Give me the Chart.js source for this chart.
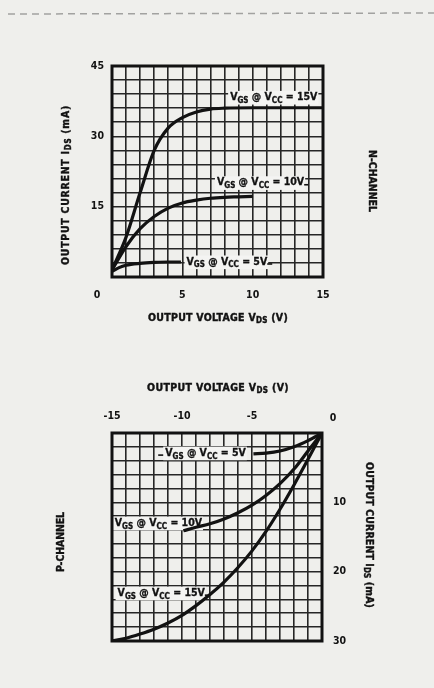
<!DOCTYPE html>
<html>
<head>
<meta charset="utf-8">
<script src="https://cdn.jsdelivr.net/npm/chart.js@4.4.1/dist/chart.umd.min.js"></script>
<style>
  html, body { margin:0; padding:0; background:#efefec; }
  body { width:434px; height:688px; position:relative; overflow:hidden; }
  canvas { position:absolute; left:0; }
  #top { top:0; }
  #bot { top:344px; }
</style>
</head>
<body>
<canvas id="top" width="434" height="344"></canvas>
<canvas id="bot" width="434" height="344"></canvas>
<script>
// ---------- DATA ----------
// N-channel: output voltage VDS (V) vs output current IDS (mA)
const nCat15 = [0, 1, 2, 3, 4, 5, 6, 7, 8, 10, 12, 15];
const nVal15 = [1.5, 8.5, 18, 27, 31.8, 34, 35.2, 35.8, 36, 36.1, 36.1, 36.1];
const nCat10 = [0, 1, 2, 3, 4, 5, 6, 7, 8, 9, 10];
const nVal10 = [1.5, 6.5, 10.3, 12.9, 14.7, 15.8, 16.4, 16.8, 17, 17.1, 17.2];
const nCat5  = [0, 0.5, 1, 2, 3, 4, 4.9];
const nVal5  = [1.2, 2.0, 2.5, 2.9, 3.1, 3.2, 3.2];
// P-channel
const pCat5  = [0, -1, -2, -3, -4, -4.9];
const pVal5  = [0, 1.1, 2.0, 2.6, 2.9, 3.0];
const pCat10 = [0, -1, -2, -3, -4, -5, -6, -7, -8, -9, -9.9];
const pVal10 = [0, 2.6, 5.2, 7.3, 9.0, 10.4, 11.5, 12.4, 13.1, 13.6, 14.1];
const pCat15 = [0, -1, -2, -3, -4, -5, -6, -7, -8, -9, -10, -11, -12, -13, -14, -15];
const pVal15 = [0, 3.8, 7.5, 11, 14.2, 17, 19.4, 21.5, 23.3, 24.9, 26.3, 27.4, 28.3, 29, 29.6, 30];
// tick labels
const nXTickLabels = [5, 10, 15];
const nYTickLabels = [15, 30, 45];
const pXTickLabels = [-15, -10, -5];
const pYTickLabels = [10, 20, 30];
const seriesNames = ['15V', '10V', '5V'];

// ---------- STYLE ----------
const INK = '#121212';
const GRID = '#262626';
const BOX = '#f4f4f2';
const FONT = '"DejaVu Sans Condensed", "DejaVu Sans", sans-serif';

function pts(xs, ys) {
  return xs.map((x, i) => ({ x: x, y: ys[i] })).sort((a, b) => a.x - b.x);
}

function partsWidth(ctx, parts, fs, ss, ls) {
  let w = 0;
  for (const p of parts) {
    ctx.font = 'bold ' + (p.sub ? ss : fs) + 'px ' + FONT;
    ctx.letterSpacing = ls + 'px';
    w += ctx.measureText(p.t).width;
  }
  return w;
}
function drawRich(ctx, parts, x, y, o) {
  const fs = o.fs, ss = o.ss || Math.round(fs * 0.72);
  let ls = o.ls || 0;
  ctx.save();
  ctx.translate(x, y);
  if (o.rot) ctx.rotate(o.rot);
  if (o.width) {
    const n = parts.reduce((a, p) => a + p.t.length, 0);
    const w0 = partsWidth(ctx, parts, fs, ss, 0);
    ls = (o.width - w0) / n;
  }
  const w = partsWidth(ctx, parts, fs, ss, ls);
  let cx = o.align === 'right' ? -w : (o.align === 'center' ? -w / 2 : 0);
  if (o.box) {
    ctx.fillStyle = o.box;
    ctx.fillRect(cx - 2, -fs * 0.62, w + 3, fs * 1.3);
  }
  ctx.fillStyle = INK;
  ctx.strokeStyle = INK;
  ctx.lineWidth = o.heavy || 0;
  ctx.textBaseline = 'middle';
  ctx.textAlign = 'left';
  const x0 = cx;
  for (const p of parts) {
    ctx.font = 'bold ' + (p.sub ? ss : fs) + 'px ' + FONT;
    ctx.letterSpacing = ls + 'px';
    const yy = p.sub ? fs * 0.32 : 0;
    ctx.fillText(p.t, cx, yy);
    if (o.heavy) ctx.strokeText(p.t, cx, yy);
    cx += ctx.measureText(p.t).width;
  }
  ctx.restore();
  return { left: x + x0, right: x + cx };
}
function vgsParts(v) {
  return [{ t: 'V' }, { t: 'GS', sub: true }, { t: ' @ V' }, { t: 'CC', sub: true }, { t: ' = ' + v }];
}
function leader(ctx, x1, x2, y) {
  ctx.save();
  ctx.strokeStyle = INK; ctx.lineWidth = 1.6;
  ctx.beginPath(); ctx.moveTo(x1, y); ctx.lineTo(x2, y); ctx.stroke();
  ctx.restore();
}

function tickCb(list) {
  return v => (list.indexOf(v) >= 0 ? String(v) : '');
}
function ds(data) {
  return {
    data: data, borderColor: INK, borderWidth: 3.2, pointRadius: 0,
    cubicInterpolationMode: 'monotone', fill: false
  };
}
function scaleBase(min, max, step, list, pad, reverse, position) {
  return {
    type: 'linear', min: min, max: max, reverse: !!reverse, position: position,
    ticks: {
      stepSize: step, autoSkip: false, maxRotation: 0, padding: pad,
      callback: tickCb(list), color: INK,
      font: { family: FONT, size: 10.5, weight: 'bold' }
    },
    grid: { color: GRID, lineWidth: 1.6, drawTicks: false },
    border: { display: false }
  };
}

// annotation configs (data-space anchors)
const nLabels = [
  { name: seriesNames[0], x: 14.6, y: 38.3, align: 'right' },
  { name: seriesNames[1], x: 7.46, y: 20.1, align: 'left', tail: 4 },
  { name: seriesNames[2], x: 5.3, y: 3.2, align: 'left', tail: 5 }
];
const pLabels = [
  { name: seriesNames[2], x: -11.2, y: 2.9, align: 'left', lead: 5 },
  { name: seriesNames[1], x: -14.8, y: 13, align: 'left', tail: 5 },
  { name: seriesNames[0], x: -14.6, y: 23.1, align: 'left', tail: 3 }
];

function labelsPlugin(labels) {
  return {
    id: 'lbl',
    beforeDatasetsDraw(chart) {
      const ctx = chart.ctx, xs = chart.scales.x, ys = chart.scales.y;
      for (const l of labels) {
        const px = xs.getPixelForValue(l.x), py = ys.getPixelForValue(l.y);
        const r = drawRich(ctx, vgsParts(l.name), px, py, { fs: 10.5, ls: 0, align: l.align, box: BOX, heavy: 0.3 });
        if (l.tail) leader(ctx, r.right, r.right + l.tail, py + 2);
        if (l.lead) leader(ctx, r.left - l.lead - 2, r.left - 2, py + 2);
      }
    },
    afterDatasetsDraw(chart) {
      const a = chart.chartArea, ctx = chart.ctx;
      ctx.save();
      ctx.strokeStyle = INK; ctx.lineWidth = 3;
      ctx.strokeRect(a.left, a.top, a.right - a.left, a.bottom - a.top);
      ctx.restore();
    }
  };
}

const titlesTop = {
  id: 'titlesTop',
  beforeDraw(chart) {
    const ctx = chart.ctx;
    ctx.save();
    ctx.strokeStyle = '#a2a2a0'; ctx.lineWidth = 1.5; ctx.setLineDash([7, 5]);
    ctx.beginPath(); ctx.moveTo(8, 14); ctx.lineTo(434, 13); ctx.stroke();
    ctx.restore();
  },
  afterDraw(chart) {
    const ctx = chart.ctx, a = chart.chartArea;
    drawRich(ctx, [{ t: 'OUTPUT CURRENT I' }, { t: 'DS', sub: true }, { t: ' (mA)' }], 66, 185,
      { fs: 10.5, width: 160, align: 'center', rot: -Math.PI / 2, heavy: 0.4 });
    drawRich(ctx, [{ t: 'OUTPUT VOLTAGE V' }, { t: 'DS', sub: true }, { t: ' (V)' }], 218, 318,
      { fs: 10.5, width: 140, align: 'center', heavy: 0.4 });
    drawRich(ctx, [{ t: 'N-CHANNEL' }], 372, 181, { fs: 10.5, width: 62, align: 'center', rot: Math.PI / 2, heavy: 0.4 });
    // corner origin label
    drawRich(ctx, [{ t: '0' }], a.left - 15, a.bottom + 18, { fs: 10.5, align: 'center' });
  }
};
const titlesBot = {
  id: 'titlesBot',
  afterDraw(chart) {
    const ctx = chart.ctx, a = chart.chartArea;
    drawRich(ctx, [{ t: 'OUTPUT VOLTAGE V' }, { t: 'DS', sub: true }, { t: ' (V)' }], 218, 44,
      { fs: 10.5, width: 142, align: 'center', heavy: 0.4 });
    drawRich(ctx, [{ t: 'OUTPUT CURRENT I' }, { t: 'DS', sub: true }, { t: ' (mA)' }], 369, 191,
      { fs: 10.5, width: 146, align: 'center', rot: Math.PI / 2, heavy: 0.4 });
    drawRich(ctx, [{ t: 'P-CHANNEL' }], 61, 198, { fs: 10.5, width: 60, align: 'center', rot: -Math.PI / 2, heavy: 0.4 });
    drawRich(ctx, [{ t: '0' }], a.right + 11, a.top - 15, { fs: 10.5, align: 'center' });
  }
};

// ---------- TOP (N-CHANNEL) ----------
const nx = scaleBase(0, 15, 1, nXTickLabels, 12, false, 'bottom');
nx.afterFit = s => { s.height = 67; };
const ny = scaleBase(0, 45, 3, nYTickLabels, 8, false, 'left');
ny.afterFit = s => { s.width = 112; };
new Chart(document.getElementById('top'), {
  type: 'line',
  data: { datasets: [ds(pts(nCat15, nVal15)), ds(pts(nCat10, nVal10)), ds(pts(nCat5, nVal5))] },
  options: {
    responsive: false, animation: false,
    layout: { padding: { top: 66, right: 111, left: 0, bottom: 0 } },
    plugins: { legend: { display: false }, tooltip: { enabled: false } },
    scales: { x: nx, y: ny }
  },
  plugins: [labelsPlugin(nLabels), titlesTop]
});

// ---------- BOTTOM (P-CHANNEL) ----------
const px = scaleBase(-15, 0, 1, pXTickLabels, 10, false, 'top');
px.afterFit = s => { s.height = 89; };
const py = scaleBase(0, 30, 2, pYTickLabels, 11, true, 'right');
py.afterFit = s => { s.width = 112; };
new Chart(document.getElementById('bot'), {
  type: 'line',
  data: { datasets: [ds(pts(pCat5, pVal5)), ds(pts(pCat10, pVal10)), ds(pts(pCat15, pVal15))] },
  options: {
    responsive: false, animation: false,
    layout: { padding: { top: 0, right: 0, left: 112, bottom: 47 } },
    plugins: { legend: { display: false }, tooltip: { enabled: false } },
    scales: { x: px, y: py }
  },
  plugins: [labelsPlugin(pLabels), titlesBot]
});
</script>
</body>
</html>
